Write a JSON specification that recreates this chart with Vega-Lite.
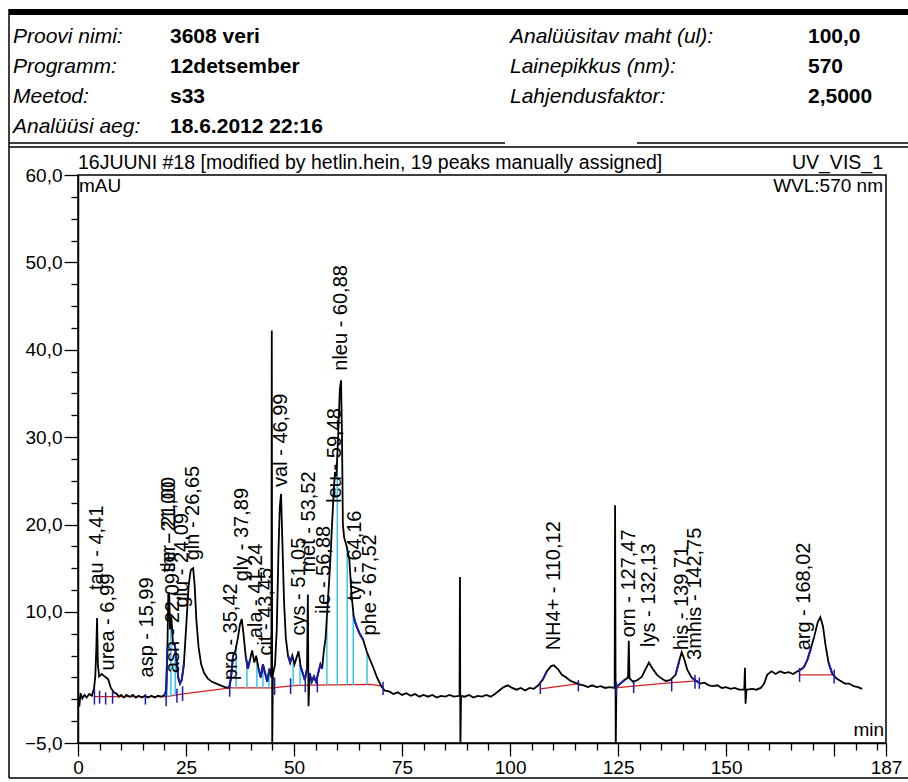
{
  "$schema": "https://vega.github.io/schema/vega-lite/v6.json",
  "width": 808,
  "height": 568,
  "autosize": "none",
  "padding": {"left": 78, "top": 175, "right": 22, "bottom": 39},
  "background": "white",
  "config": {
    "view": {"stroke": "black", "strokeWidth": 1.5},
    "font": "Liberation Sans",
    "text": {"font": "Liberation Sans", "color": "black"}
  },
  "datasets": {
    "header": [
      {"text": "Proovi nimi:", "col": 0, "row": 0, "kind": "key"},
      {"text": "3608 veri", "col": 1, "row": 0, "kind": "val"},
      {"text": "Analüüsitav maht (ul):", "col": 2, "row": 0, "kind": "key"},
      {"text": "100,0", "col": 3, "row": 0, "kind": "val"},
      {"text": "Programm:", "col": 0, "row": 1, "kind": "key"},
      {"text": "12detsember", "col": 1, "row": 1, "kind": "val"},
      {"text": "Lainepikkus (nm):", "col": 2, "row": 1, "kind": "key"},
      {"text": "570", "col": 3, "row": 1, "kind": "val"},
      {"text": "Meetod:", "col": 0, "row": 2, "kind": "key"},
      {"text": "s33", "col": 1, "row": 2, "kind": "val"},
      {"text": "Lahjendusfaktor:", "col": 2, "row": 2, "kind": "key"},
      {"text": "2,5000", "col": 3, "row": 2, "kind": "val"},
      {"text": "Analüüsi aeg:", "col": 0, "row": 3, "kind": "key"},
      {"text": "18.6.2012 22:16", "col": 1, "row": 3, "kind": "val"}
    ],
    "trace": [
      {"t": 0, "v": 0.3}, {"t": 0.3, "v": -0.8}, {"t": 0.6, "v": 0.7}, {"t": 1.0, "v": 0.1}, {"t": 1.5, "v": 0.5},
      {"t": 2.0, "v": 0.2}, {"t": 2.6, "v": 0.6}, {"t": 3.2, "v": 0.4}, {"t": 3.7, "v": 1.2}, {"t": 4.0, "v": 2.6},
      {"t": 4.25, "v": 6.0}, {"t": 4.41, "v": 9.3}, {"t": 4.6, "v": 4.0}, {"t": 4.9, "v": 2.6}, {"t": 5.5, "v": 2.9},
      {"t": 6.2, "v": 2.6}, {"t": 6.99, "v": 2.3}, {"t": 7.6, "v": 1.3}, {"t": 8.3, "v": 0.8}, {"t": 9.0, "v": 0.6},
      {"t": 9.5, "v": 0.3}, {"t": 10.0, "v": 0.5}, {"t": 10.6, "v": 0.2}, {"t": 11.2, "v": 0.5}, {"t": 12.0, "v": 0.3},
      {"t": 12.7, "v": 0.5}, {"t": 13.4, "v": 0.2}, {"t": 14.0, "v": 0.4}, {"t": 14.8, "v": 0.2}, {"t": 15.5, "v": 0.4},
      {"t": 16.2, "v": 0.2}, {"t": 17.0, "v": 0.4}, {"t": 17.8, "v": 0.2}, {"t": 18.5, "v": 0.4}, {"t": 19.3, "v": 0.3},
      {"t": 20.0, "v": 0.5}, {"t": 20.4, "v": 1.0}, {"t": 20.7, "v": 6.0}, {"t": 20.9, "v": 12.0}, {"t": 21.1, "v": 12.2},
      {"t": 21.3, "v": 8.0}, {"t": 21.6, "v": 9.5}, {"t": 22.0, "v": 6.3}, {"t": 22.4, "v": 6.3}, {"t": 22.8, "v": 4.5},
      {"t": 23.2, "v": 2.5}, {"t": 23.6, "v": 1.8}, {"t": 24.0, "v": 2.2}, {"t": 24.5, "v": 4.0}, {"t": 25.0, "v": 8.0},
      {"t": 25.6, "v": 13.0}, {"t": 26.1, "v": 14.8}, {"t": 26.65, "v": 15.0}, {"t": 27.0, "v": 13.0}, {"t": 27.4, "v": 9.0},
      {"t": 27.9, "v": 6.0}, {"t": 28.5, "v": 4.0}, {"t": 29.2, "v": 3.0}, {"t": 30.0, "v": 2.4}, {"t": 31.0, "v": 2.0},
      {"t": 32.0, "v": 1.8}, {"t": 33.0, "v": 1.6}, {"t": 34.0, "v": 1.4}, {"t": 35.0, "v": 1.3}, {"t": 35.42, "v": 2.5},
      {"t": 35.9, "v": 5.0}, {"t": 36.4, "v": 5.5}, {"t": 37.0, "v": 7.0}, {"t": 37.5, "v": 8.6}, {"t": 37.89, "v": 9.2},
      {"t": 38.3, "v": 7.5}, {"t": 38.8, "v": 5.0}, {"t": 39.3, "v": 3.5}, {"t": 39.8, "v": 4.5}, {"t": 40.3, "v": 5.6},
      {"t": 40.8, "v": 4.2}, {"t": 41.24, "v": 5.0}, {"t": 41.8, "v": 3.5}, {"t": 42.3, "v": 2.5}, {"t": 42.8, "v": 4.0},
      {"t": 43.3, "v": 3.0}, {"t": 43.8, "v": 2.0}, {"t": 44.3, "v": 3.5}, {"t": 44.75, "v": 2.5}, {"t": 44.85, "v": 42.2},
      {"t": 44.95, "v": -5.6}, {"t": 45.1, "v": 2.8}, {"t": 45.6, "v": 4.0}, {"t": 46.0, "v": 8.0}, {"t": 46.4, "v": 17.0},
      {"t": 46.7, "v": 22.0}, {"t": 46.99, "v": 23.5}, {"t": 47.3, "v": 18.0}, {"t": 47.7, "v": 11.0}, {"t": 48.1, "v": 7.0},
      {"t": 48.6, "v": 5.0}, {"t": 49.1, "v": 4.2}, {"t": 49.6, "v": 5.0}, {"t": 50.1, "v": 4.0}, {"t": 50.6, "v": 4.8},
      {"t": 51.05, "v": 5.5}, {"t": 51.5, "v": 3.8}, {"t": 52.0, "v": 3.0}, {"t": 52.5, "v": 2.2}, {"t": 53.0, "v": 3.5},
      {"t": 53.2, "v": 12.0}, {"t": 53.35, "v": -0.8}, {"t": 53.6, "v": 3.0}, {"t": 54.1, "v": 2.0}, {"t": 54.6, "v": 2.6},
      {"t": 55.1, "v": 2.0}, {"t": 55.6, "v": 3.0}, {"t": 56.1, "v": 4.0}, {"t": 56.5, "v": 3.5}, {"t": 56.88, "v": 5.5},
      {"t": 57.3, "v": 7.0}, {"t": 57.8, "v": 11.0}, {"t": 58.3, "v": 15.0}, {"t": 58.8, "v": 20.0}, {"t": 59.2, "v": 24.0},
      {"t": 59.48, "v": 26.0}, {"t": 59.8, "v": 25.5}, {"t": 60.2, "v": 30.0}, {"t": 60.6, "v": 35.5}, {"t": 60.88, "v": 36.5},
      {"t": 61.1, "v": 30.0}, {"t": 61.3, "v": 20.0}, {"t": 61.6, "v": 18.5}, {"t": 62.2, "v": 17.5}, {"t": 62.8, "v": 16.0},
      {"t": 63.3, "v": 12.0}, {"t": 63.8, "v": 9.5}, {"t": 64.16, "v": 8.8}, {"t": 64.6, "v": 8.2}, {"t": 65.2, "v": 7.5},
      {"t": 66.0, "v": 6.8}, {"t": 66.8, "v": 5.5}, {"t": 67.52, "v": 4.6}, {"t": 68.3, "v": 3.7}, {"t": 69.2, "v": 2.5},
      {"t": 70.2, "v": 1.5}, {"t": 71.0, "v": 1.0}, {"t": 72.0, "v": 0.9}, {"t": 73, "v": 0.6}, {"t": 74, "v": 0.8},
      {"t": 75, "v": 0.5}, {"t": 76, "v": 0.7}, {"t": 77, "v": 0.4}, {"t": 78, "v": 0.6}, {"t": 79, "v": 0.3},
      {"t": 80, "v": 0.5}, {"t": 81, "v": 0.3}, {"t": 82, "v": 0.5}, {"t": 83, "v": 0.2}, {"t": 84, "v": 0.4},
      {"t": 85, "v": 0.3}, {"t": 86, "v": 0.5}, {"t": 87, "v": 0.3}, {"t": 88.3, "v": 0.4}, {"t": 88.4, "v": 14.0},
      {"t": 88.5, "v": -5.6}, {"t": 88.65, "v": 0.4}, {"t": 89.5, "v": 0.3}, {"t": 90.5, "v": 0.5}, {"t": 91.5, "v": 0.2},
      {"t": 92.5, "v": 0.4}, {"t": 93.5, "v": 0.3}, {"t": 94.5, "v": 0.5}, {"t": 95.5, "v": 0.3}, {"t": 96.5, "v": 0.6},
      {"t": 97.5, "v": 1.0}, {"t": 98.5, "v": 1.4}, {"t": 99.5, "v": 1.6}, {"t": 100.5, "v": 1.3}, {"t": 101.5, "v": 1.1},
      {"t": 102.5, "v": 1.3}, {"t": 103.5, "v": 1.0}, {"t": 104.5, "v": 1.3}, {"t": 105.5, "v": 1.2}, {"t": 106.5, "v": 1.6},
      {"t": 107.5, "v": 2.2}, {"t": 108.5, "v": 3.2}, {"t": 109.5, "v": 3.8}, {"t": 110.12, "v": 3.9}, {"t": 111, "v": 3.5},
      {"t": 112, "v": 2.8}, {"t": 113, "v": 2.5}, {"t": 114, "v": 2.1}, {"t": 115, "v": 1.9}, {"t": 116, "v": 1.7},
      {"t": 117, "v": 1.6}, {"t": 118, "v": 1.4}, {"t": 119, "v": 1.6}, {"t": 120, "v": 1.4}, {"t": 121, "v": 1.5},
      {"t": 122, "v": 1.3}, {"t": 123, "v": 1.4}, {"t": 124.2, "v": 1.3}, {"t": 124.3, "v": 22.2}, {"t": 124.45, "v": -5.6},
      {"t": 124.6, "v": 1.4}, {"t": 125.5, "v": 1.8}, {"t": 126.5, "v": 2.2}, {"t": 127.3, "v": 2.5}, {"t": 127.47, "v": 6.7},
      {"t": 127.65, "v": 2.4}, {"t": 128.5, "v": 2.0}, {"t": 129.5, "v": 2.2}, {"t": 130.5, "v": 2.6}, {"t": 131.5, "v": 3.6},
      {"t": 132.13, "v": 4.2}, {"t": 133, "v": 3.5}, {"t": 134, "v": 2.8}, {"t": 135, "v": 2.4}, {"t": 136, "v": 2.1},
      {"t": 137, "v": 2.2}, {"t": 138.3, "v": 2.8}, {"t": 139.2, "v": 4.5}, {"t": 139.71, "v": 5.4}, {"t": 140.3, "v": 4.6},
      {"t": 141, "v": 3.4}, {"t": 142, "v": 2.5}, {"t": 142.75, "v": 2.2}, {"t": 144, "v": 1.8}, {"t": 145, "v": 1.9},
      {"t": 146, "v": 1.6}, {"t": 147, "v": 1.5}, {"t": 148, "v": 1.6}, {"t": 149, "v": 1.3}, {"t": 150, "v": 1.4},
      {"t": 151, "v": 1.2}, {"t": 152, "v": 1.3}, {"t": 153, "v": 1.1}, {"t": 154.2, "v": 1.1}, {"t": 154.35, "v": 3.6},
      {"t": 154.5, "v": -0.5}, {"t": 154.7, "v": 1.1}, {"t": 156, "v": 1.2}, {"t": 157, "v": 1.1}, {"t": 158, "v": 1.3},
      {"t": 158.8, "v": 1.8}, {"t": 159.5, "v": 2.8}, {"t": 160.5, "v": 3.2}, {"t": 161.5, "v": 2.9}, {"t": 162.5, "v": 3.2},
      {"t": 163.5, "v": 3.0}, {"t": 164.5, "v": 3.1}, {"t": 165.5, "v": 2.9}, {"t": 166.5, "v": 3.2}, {"t": 167.3, "v": 3.4},
      {"t": 168.02, "v": 3.7}, {"t": 168.8, "v": 4.5}, {"t": 169.6, "v": 5.8}, {"t": 170.4, "v": 7.2}, {"t": 171.2, "v": 8.8},
      {"t": 171.8, "v": 9.4}, {"t": 172.4, "v": 8.4}, {"t": 173.0, "v": 6.2}, {"t": 173.7, "v": 4.2}, {"t": 174.5, "v": 3.0},
      {"t": 175.5, "v": 2.4}, {"t": 176.5, "v": 2.1}, {"t": 177.5, "v": 1.8}, {"t": 178.5, "v": 1.8}, {"t": 179.5, "v": 1.5},
      {"t": 180.5, "v": 1.4}, {"t": 181.5, "v": 1.2}
    ],
    "flanks": [
      {"grp": 1, "t": 20.0, "v": 0.5}, {"grp": 1, "t": 20.4, "v": 1.0}, {"grp": 1, "t": 20.7, "v": 6.0},
      {"grp": 2, "t": 22.4, "v": 6.3}, {"grp": 2, "t": 22.8, "v": 4.5}, {"grp": 2, "t": 23.2, "v": 2.5}, {"grp": 2, "t": 23.6, "v": 1.8}, {"grp": 2, "t": 24.0, "v": 2.2}, {"grp": 2, "t": 24.5, "v": 4.0},
      {"grp": 3, "t": 35.0, "v": 1.3}, {"grp": 3, "t": 35.42, "v": 2.5}, {"grp": 3, "t": 35.9, "v": 5.0},
      {"grp": 4, "t": 38.8, "v": 5.0}, {"grp": 4, "t": 39.3, "v": 3.5}, {"grp": 4, "t": 39.8, "v": 4.5},
      {"grp": 5, "t": 41.8, "v": 3.5}, {"grp": 5, "t": 42.3, "v": 2.5}, {"grp": 5, "t": 42.8, "v": 4.0}, {"grp": 5, "t": 43.3, "v": 3.0}, {"grp": 5, "t": 43.8, "v": 2.0}, {"grp": 5, "t": 44.3, "v": 3.5},
      {"grp": 6, "t": 48.6, "v": 5.0}, {"grp": 6, "t": 49.1, "v": 4.2}, {"grp": 6, "t": 49.6, "v": 5.0},
      {"grp": 7, "t": 51.5, "v": 3.8}, {"grp": 7, "t": 52.0, "v": 3.0}, {"grp": 7, "t": 52.5, "v": 2.2}, {"grp": 7, "t": 53.0, "v": 3.5},
      {"grp": 8, "t": 53.6, "v": 3.0}, {"grp": 8, "t": 54.1, "v": 2.0}, {"grp": 8, "t": 54.6, "v": 2.6}, {"grp": 8, "t": 55.1, "v": 2.0}, {"grp": 8, "t": 55.6, "v": 3.0}, {"grp": 8, "t": 56.1, "v": 4.0}, {"grp": 8, "t": 56.5, "v": 3.5},
      {"grp": 9, "t": 63.8, "v": 9.5}, {"grp": 9, "t": 64.16, "v": 8.8}, {"grp": 9, "t": 64.6, "v": 8.2}, {"grp": 9, "t": 65.2, "v": 7.5}, {"grp": 9, "t": 66.0, "v": 6.8},
      {"grp": 10, "t": 107.5, "v": 2.2}, {"grp": 10, "t": 108.5, "v": 3.2},
      {"grp": 11, "t": 124.6, "v": 1.4}, {"grp": 11, "t": 125.5, "v": 1.8}, {"grp": 11, "t": 126.5, "v": 2.2},
      {"grp": 12, "t": 138.3, "v": 2.8}, {"grp": 12, "t": 139.2, "v": 4.5},
      {"grp": 13, "t": 142, "v": 2.5}, {"grp": 13, "t": 142.75, "v": 2.2}, {"grp": 13, "t": 144, "v": 1.8},
      {"grp": 14, "t": 167.3, "v": 3.4}, {"grp": 14, "t": 168.02, "v": 3.7}, {"grp": 14, "t": 168.8, "v": 4.5}, {"grp": 14, "t": 169.6, "v": 5.8},
      {"grp": 15, "t": 173.7, "v": 4.2}, {"grp": 15, "t": 174.5, "v": 3.0}, {"grp": 15, "t": 175.5, "v": 2.4}
    ],
    "baseline": [
      {"seg": 1, "t": 3.8, "v": 0.3}, {"seg": 1, "t": 20.4, "v": 0.3}, {"seg": 1, "t": 24.0, "v": 0.6},
      {"seg": 1, "t": 35.2, "v": 1.3}, {"seg": 1, "t": 45.0, "v": 1.3}, {"seg": 1, "t": 50.5, "v": 1.6},
      {"seg": 1, "t": 67.8, "v": 1.7}, {"seg": 1, "t": 70.5, "v": 1.5},
      {"seg": 2, "t": 107.0, "v": 1.2}, {"seg": 2, "t": 116.0, "v": 1.8},
      {"seg": 3, "t": 124.4, "v": 1.3}, {"seg": 3, "t": 128.5, "v": 1.5}, {"seg": 3, "t": 137.5, "v": 1.9}, {"seg": 3, "t": 143.5, "v": 2.1},
      {"seg": 4, "t": 167.0, "v": 2.8}, {"seg": 4, "t": 175.0, "v": 2.8}
    ],
    "drops": [
      {"t": 20.6, "v": 0.3, "v2": 5.0}, {"t": 21.5, "v": 0.35, "v2": 9.0}, {"t": 22.5, "v": 0.45, "v2": 5.5},
      {"t": 36.6, "v": 1.3, "v2": 6.2}, {"t": 39.1, "v": 1.3, "v2": 3.8}, {"t": 41.4, "v": 1.3, "v2": 4.5},
      {"t": 42.8, "v": 1.3, "v2": 4.0}, {"t": 44.2, "v": 1.3, "v2": 3.4}, {"t": 49.8, "v": 1.5, "v2": 4.2},
      {"t": 51.4, "v": 1.6, "v2": 4.6}, {"t": 53.7, "v": 1.6, "v2": 2.7}, {"t": 57.6, "v": 1.6, "v2": 9.0},
      {"t": 60.0, "v": 1.6, "v2": 28.0}, {"t": 62.3, "v": 1.6, "v2": 17.3}, {"t": 63.7, "v": 1.6, "v2": 9.8},
      {"t": 66.9, "v": 1.7, "v2": 5.3}
    ],
    "ticks": [
      {"t": 3.8, "v": -0.6, "v2": 1.2}, {"t": 5.0, "v": -0.5, "v2": 1.0}, {"t": 6.4, "v": -0.6, "v2": 0.8},
      {"t": 8.0, "v": -0.5, "v2": 0.9}, {"t": 15.6, "v": -0.6, "v2": 0.6}, {"t": 20.4, "v": -0.8, "v2": 1.6},
      {"t": 22.9, "v": -0.4, "v2": 1.2}, {"t": 24.2, "v": -0.2, "v2": 1.5}, {"t": 35.1, "v": 0.3, "v2": 2.0},
      {"t": 45.5, "v": 0.5, "v2": 2.5}, {"t": 49.2, "v": 0.6, "v2": 2.4}, {"t": 52.6, "v": 0.8, "v2": 2.3},
      {"t": 55.4, "v": 0.8, "v2": 2.3}, {"t": 70.6, "v": 0.5, "v2": 2.0}, {"t": 107.0, "v": 0.6, "v2": 2.0},
      {"t": 115.8, "v": 0.9, "v2": 2.2}, {"t": 124.6, "v": 0.5, "v2": 2.0}, {"t": 128.6, "v": 0.7, "v2": 2.2},
      {"t": 137.4, "v": 0.9, "v2": 2.4}, {"t": 142.8, "v": 1.2, "v2": 2.8}, {"t": 143.8, "v": 1.2, "v2": 2.5},
      {"t": 167.0, "v": 2.0, "v2": 3.6}, {"t": 175.0, "v": 1.8, "v2": 3.4}
    ],
    "peaks": [
      {"label": "tau - 4,41", "t": 4.41, "v": 12.5},
      {"label": "urea - 6,99", "t": 6.99, "v": 3.3},
      {"label": "asp - 15,99", "t": 15.99, "v": 2.5},
      {"label": "thr - 21,00", "t": 21.0, "v": 14.5},
      {"label": "ser - 21,00", "t": 21.0, "v": 14.5},
      {"label": "asn - 22,09", "t": 22.09, "v": 3.0},
      {"label": "glu - 24,09", "t": 24.09, "v": 10.5},
      {"label": "gln - 26,65", "t": 26.65, "v": 15.9},
      {"label": "pro - 35,42", "t": 35.42, "v": 2.2},
      {"label": "gly - 37,89", "t": 37.89, "v": 13.5},
      {"label": "ala - 41,24", "t": 41.24, "v": 7.0},
      {"label": "cit - 43,45", "t": 43.45, "v": 5.0},
      {"label": "val - 46,99", "t": 46.99, "v": 24.3},
      {"label": "cys - 51,05", "t": 51.05, "v": 7.3},
      {"label": "met - 53,52", "t": 53.52, "v": 14.5},
      {"label": "ile - 56,88", "t": 56.88, "v": 9.8},
      {"label": "leu - 59,48", "t": 59.48, "v": 22.5},
      {"label": "nleu - 60,88", "t": 60.88, "v": 37.6},
      {"label": "tyr - 64,16", "t": 64.16, "v": 11.3},
      {"label": "phe - 67,52", "t": 67.52, "v": 7.3},
      {"label": "NH4+ - 110,12", "t": 110.12, "v": 5.6},
      {"label": "orn - 127,47", "t": 127.47, "v": 7.1},
      {"label": "lys - 132,13", "t": 132.13, "v": 6.0},
      {"label": "his - 139,71", "t": 139.71, "v": 5.6},
      {"label": "3mhis - 142,75", "t": 142.75, "v": 4.5},
      {"label": "arg - 168,02", "t": 168.02, "v": 5.6}
    ],
    "notes": [
      {"text": "16JUUNI #18 [modified by hetlin.hein, 19 peaks manually assigned]", "t": 0, "v": 60, "pos": "tl"},
      {"text": "UV_VIS_1", "t": 187, "v": 60, "pos": "tr"},
      {"text": "WVL:570 nm", "t": 187, "v": 60, "pos": "ir"},
      {"text": "mAU", "t": 0, "v": 60, "pos": "il"},
      {"text": "min", "t": 187, "v": -5, "pos": "br"}
    ]
  },
  "layer": [
    {
      "data": {"name": "header"},
      "encoding": {
        "x": {"field": "col", "type": "quantitative", "scale": {"domain": [0, 1, 2, 3], "range": [-65, 92, 432, 730]}, "axis": null},
        "y": {"field": "row", "type": "quantitative", "scale": {"domain": [0, 3], "range": [-138, -48]}, "axis": null},
        "text": {"field": "text", "type": "nominal"}
      },
      "layer": [
        {"transform": [{"filter": "datum.kind === 'key'"}],
         "mark": {"type": "text", "align": "left", "baseline": "middle", "fontStyle": "italic", "fontSize": 21}},
        {"transform": [{"filter": "datum.kind === 'val'"}],
         "mark": {"type": "text", "align": "left", "baseline": "middle", "fontWeight": "bold", "fontSize": 21}}
      ]
    },
    {
      "encoding": {
        "x": {
          "field": "t", "type": "quantitative",
          "scale": {"domain": [0, 187], "nice": false, "zero": false},
          "axis": {
            "title": null, "grid": false,
            "values": [0, 5, 10, 15, 20, 25, 30, 35, 40, 45, 50, 55, 60, 65, 70, 75, 80, 85, 90, 95, 100, 105, 110, 115, 120, 125, 130, 135, 140, 145, 150, 155, 160, 165, 170, 175, 180, 185, 187],
            "labelExpr": "(datum.value % 25 === 0 && datum.value <= 150) || datum.value === 187 ? '' + datum.value : ''",
            "labelOverlap": false, "labelFlush": false, "labelBound": false,
            "labelFont": "Liberation Sans", "labelFontSize": 19, "labelColor": "black", "labelPadding": 2,
            "domainColor": "black", "domainWidth": 1.5, "tickColor": "black", "tickWidth": 1.3,
            "tickSize": {"condition": {"test": "datum.value % 25 === 0 || datum.value === 187", "value": 13}, "value": 7}
          }
        },
        "y": {
          "field": "v", "type": "quantitative",
          "scale": {"domain": [-5, 60], "nice": false, "zero": false},
          "axis": {
            "title": null, "grid": false,
            "values": [-5, -2.5, 0, 2.5, 5, 7.5, 10, 12.5, 15, 17.5, 20, 22.5, 25, 27.5, 30, 32.5, 35, 37.5, 40, 42.5, 45, 47.5, 50, 52.5, 55, 57.5, 60],
            "labelExpr": "datum.value === -5 || (datum.value % 10 === 0 && datum.value >= 10) ? replace(format(datum.value, '.1f'), '.', ',') : ''",
            "labelOverlap": false, "labelFlush": false, "labelBound": false,
            "labelFont": "Liberation Sans", "labelFontSize": 19, "labelColor": "black", "labelPadding": 2,
            "domainColor": "black", "domainWidth": 1.5, "tickColor": "black", "tickWidth": 1.3,
            "tickSize": {"condition": {"test": "datum.value === -5 || (datum.value % 10 === 0 && datum.value >= 10)", "value": 14}, "value": 7}
          }
        }
      },
      "layer": [
        {
          "data": {"values": [{}]},
          "layer": [
            {"mark": {"type": "rect", "fill": "black", "stroke": null},
             "encoding": {"x": {"value": -69}, "x2": {"value": 835}, "y": {"value": -166}, "y2": {"value": -160}}},
            {"mark": {"type": "rule", "color": "black", "strokeWidth": 1.5},
             "encoding": {"x": {"value": -69}, "x2": {"value": -69}, "y": {"value": -166}, "y2": {"value": 603}}},
            {"mark": {"type": "rule", "color": "black", "strokeWidth": 1.5},
             "encoding": {"x": {"value": -69}, "x2": {"value": 427}, "y": {"value": -32}, "y2": {"value": -32}}},
            {"mark": {"type": "rule", "color": "black", "strokeWidth": 1.5},
             "encoding": {"x": {"value": 559}, "x2": {"value": 835}, "y": {"value": -32}, "y2": {"value": -32}}},
            {"mark": {"type": "rule", "color": "black", "strokeWidth": 1.5},
             "encoding": {"x": {"value": -69}, "x2": {"value": 835}, "y": {"value": -28}, "y2": {"value": -28}}},
            {"mark": {"type": "rule", "color": "black", "strokeWidth": 1.5},
             "encoding": {"x": {"value": -69}, "x2": {"value": 835}, "y": {"value": 603}, "y2": {"value": 603}}}
          ]
        },
        {
          "data": {"name": "baseline"},
          "mark": {"type": "line", "color": "#d42020", "strokeWidth": 1.3, "clip": true},
          "encoding": {"detail": {"field": "seg", "type": "nominal"}}
        },
        {
          "data": {"name": "drops"},
          "mark": {"type": "rule", "color": "#36c6ec", "strokeWidth": 1.5, "clip": true},
          "encoding": {"y2": {"field": "v2"}}
        },
        {
          "data": {"name": "trace"},
          "mark": {"type": "line", "color": "black", "strokeWidth": 1.8, "clip": true},
          "encoding": {}
        },
        {
          "data": {"name": "flanks"},
          "mark": {"type": "line", "color": "#1c1ca8", "strokeWidth": 1.9, "clip": true},
          "encoding": {"detail": {"field": "grp", "type": "nominal"}}
        },
        {
          "data": {"name": "ticks"},
          "mark": {"type": "rule", "color": "#1c1ca8", "strokeWidth": 1.5, "clip": true},
          "encoding": {"y2": {"field": "v2"}}
        },
        {
          "data": {"name": "peaks"},
          "mark": {"type": "text", "angle": 270, "align": "left", "baseline": "middle", "fontSize": 20, "font": "Liberation Sans"},
          "encoding": {"text": {"field": "label", "type": "nominal"}}
        },
        {
          "data": {"name": "notes"},
          "encoding": {"text": {"field": "text", "type": "nominal"}},
          "layer": [
            {"transform": [{"filter": "datum.pos === 'tl'"}], "mark": {"type": "text", "align": "left", "baseline": "bottom", "dy": -2, "fontSize": 19.5}},
            {"transform": [{"filter": "datum.pos === 'tr'"}], "mark": {"type": "text", "align": "right", "baseline": "bottom", "dy": -2, "dx": -3, "fontSize": 19.5}},
            {"transform": [{"filter": "datum.pos === 'ir'"}], "mark": {"type": "text", "align": "right", "baseline": "top", "dy": 2, "dx": -3, "fontSize": 19}},
            {"transform": [{"filter": "datum.pos === 'il'"}], "mark": {"type": "text", "align": "left", "baseline": "top", "dy": 2, "dx": 1, "fontSize": 19}},
            {"transform": [{"filter": "datum.pos === 'br'"}], "mark": {"type": "text", "align": "right", "baseline": "bottom", "dy": -3, "dx": -2, "fontSize": 19}}
          ]
        }
      ]
    }
  ],
  "resolve": {"scale": {"x": "independent", "y": "independent"}}
}
